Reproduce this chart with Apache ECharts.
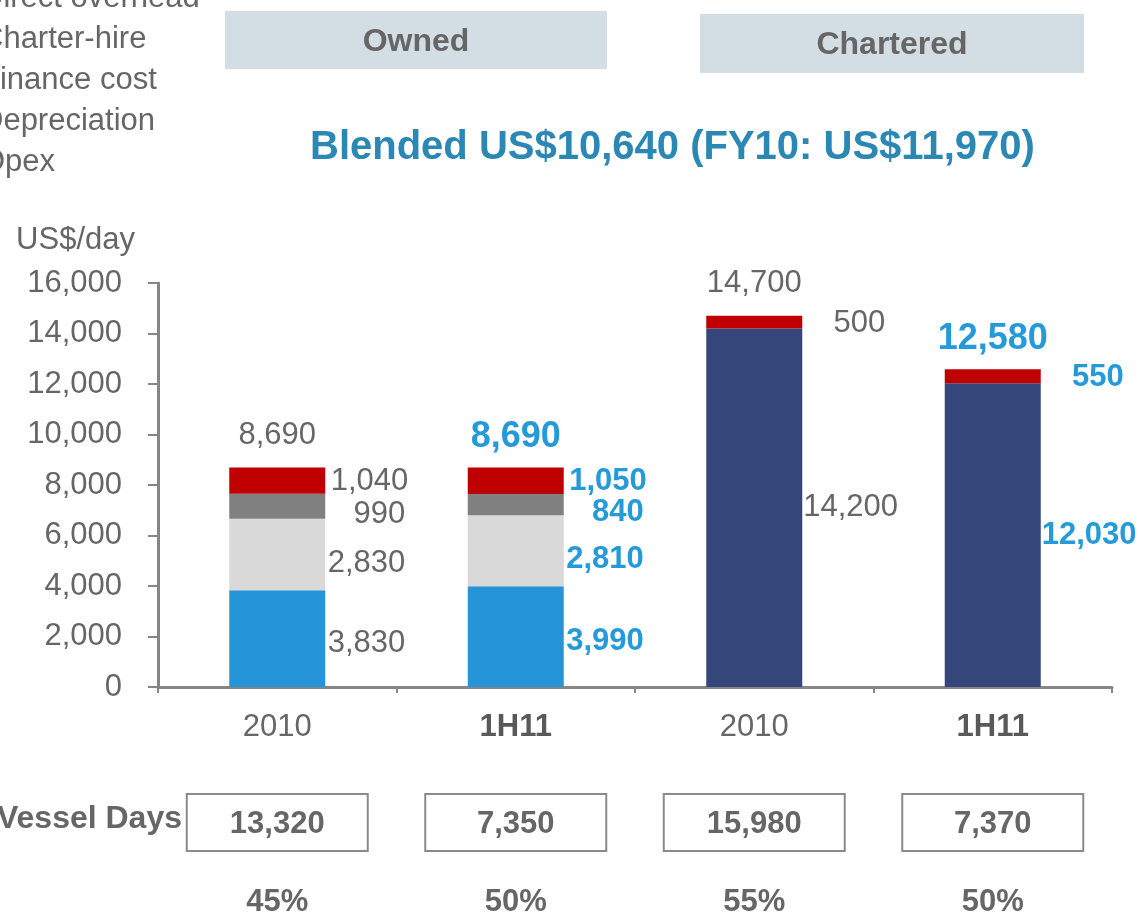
<!DOCTYPE html>
<html>
<head>
<meta charset="utf-8">
<script src="https://cdn.jsdelivr.net/npm/echarts@6/dist/echarts.min.js"></script>
<style>
  html, body { margin: 0; padding: 0; background: #fff; }
  #chart { width: 1140px; height: 912px; }
</style>
</head>
<body>
<div id="chart"></div>
<script>
// categories: owned 2010 / 1H11, chartered 2010 / 1H11
const categories = ['2010', '1H11', '2010', '1H11'];

// US$/day cost build-up
const opex = [3830, 3990, null, null];
const depreciation = [2830, 2810, null, null];
const financeCost = [990, 840, null, null];
const charterHire = [null, null, 14200, 12030];
const directOverhead = [1040, 1050, 500, 550];
const totals = [8690, 8690, 14700, 12580];

// row below the axis
const vesselDays = [13320, 7350, 15980, 7370];
const vesselShare = ['45%', '50%', '55%', '50%'];

const legendNames = ['Direct overhead', 'Charter-hire', 'Finance cost', 'Depreciation', 'Opex'];

const FONT = 'Arial, "Liberation Sans", sans-serif';
const GREY = '#666666';
const BLUE = '#259ad9';
const BAR_W = 96;

const fmt = v => Number(v).toLocaleString('en-US');

// 2010 labels are plain grey, 1H11 labels are bold blue
const labelRich = {
  g: { color: GREY, fontSize: 31, fontFamily: FONT },
  b: { color: BLUE, fontSize: 31, fontWeight: 'bold', fontFamily: FONT },
  gt: { color: GREY, fontSize: 31, fontFamily: FONT, padding: [0, 0, 5, 0] },
  bt: { color: BLUE, fontSize: 36, fontWeight: 'bold', fontFamily: FONT }
};
const segFormatter = p => (p.dataIndex % 2 ? '{b|' : '{g|') + fmt(p.value) + '}';

// label right-aligned at a fixed x from the bar's left edge
const sideLabel = (dy) => ({
  show: true,
  position: [176, '50%'],
  align: 'right',
  verticalAlign: 'middle',
  offset: [0, dy],
  formatter: segFormatter,
  rich: labelRich
});

const chart = echarts.init(document.getElementById('chart'));

chart.setOption({
  animation: false,
  textStyle: { fontFamily: FONT },
  title: {
    text: 'Blended US$10,640 (FY10: US$11,970)',
    left: 305,
    top: 123,
    textStyle: { color: '#2b87b3', fontSize: 40, fontWeight: 'bold', fontFamily: FONT }
  },
  legend: {
    data: legendNames,
    orient: 'vertical',
    left: -54,
    top: -24,
    itemWidth: 25,
    itemHeight: 14,
    itemGap: 7,
    icon: 'rect',
    textStyle: { color: GREY, fontSize: 31, lineHeight: 34, fontFamily: FONT }
  },
  grid: { left: 158, right: 28, top: 283, bottom: 225, outerBoundsMode: 'none' },
  xAxis: [
    {
      type: 'category',
      data: categories,
      axisLine: { lineStyle: { color: '#868686', width: 3 } },
      axisTick: { show: true, length: 6, lineStyle: { color: '#868686', width: 2 } },
      axisLabel: {
        interval: 0,
        margin: 25,
        formatter: (v, i) => (i % 2 ? '{b|' : '{n|') + v + '}',
        rich: {
          n: { color: GREY, fontSize: 31, fontFamily: FONT },
          b: { color: '#595959', fontSize: 31, fontWeight: 'bold', fontFamily: FONT }
        }
      }
    },
    {
      type: 'category',
      data: categories,
      position: 'bottom',
      offset: 107,
      axisLine: { show: false },
      axisTick: { show: false },
      axisLabel: {
        interval: 0,
        margin: 0,
        formatter: (v, i) => fmt(vesselDays[i]),
        color: GREY,
        fontSize: 31,
        fontWeight: 'bold',
        fontFamily: FONT,
        width: 181,
        height: 57,
        lineHeight: 61,
        align: 'center',
        borderColor: '#8a8a8a',
        borderWidth: 2
      }
    },
    {
      type: 'category',
      data: categories,
      position: 'bottom',
      offset: 200,
      axisLine: { show: false },
      axisTick: { show: false },
      axisLabel: {
        interval: 0,
        margin: 0,
        formatter: (v, i) => vesselShare[i],
        color: GREY,
        fontSize: 31,
        fontWeight: 'bold',
        fontFamily: FONT
      }
    }
  ],
  yAxis: {
    type: 'value',
    min: 0,
    max: 16000,
    interval: 2000,
    name: 'US$/day',
    nameLocation: 'end',
    nameGap: 43,
    nameTextStyle: { color: GREY, fontSize: 31, fontFamily: FONT, align: 'right', verticalAlign: 'middle', padding: [0, 23, 0, 0] },
    axisLine: { show: true, lineStyle: { color: '#868686', width: 3 } },
    axisTick: { show: true, length: 10, lineStyle: { color: '#868686', width: 2 } },
    splitLine: { show: false },
    axisLabel: { color: GREY, fontSize: 31, fontFamily: FONT, margin: 36, formatter: v => fmt(v) }
  },
  series: [
    {
      name: 'Opex', type: 'bar', stack: 'cost', barWidth: BAR_W,
      itemStyle: { color: '#2595d8' },
      label: sideLabel(5),
      data: opex
    },
    {
      name: 'Depreciation', type: 'bar', stack: 'cost', barWidth: BAR_W,
      itemStyle: { color: '#d9d9d9' },
      label: sideLabel(9),
      data: depreciation
    },
    {
      name: 'Finance cost', type: 'bar', stack: 'cost', barWidth: BAR_W,
      itemStyle: { color: '#808080' },
      label: sideLabel(8),
      data: financeCost
    },
    {
      name: 'Charter-hire', type: 'bar', stack: 'cost', barWidth: BAR_W,
      itemStyle: { color: '#35467a' },
      label: { show: true, position: 'right', distance: 1, formatter: segFormatter, rich: labelRich },
      data: charterHire
    },
    {
      name: 'Direct overhead', type: 'bar', stack: 'cost', barWidth: BAR_W,
      itemStyle: { color: '#c00000' },
      label: Object.assign(sideLabel(1), { position: [179, '50%'] }),
      data: directOverhead
    },
    {
      name: 'Total', type: 'bar', barWidth: BAR_W, barGap: '-100%', silent: true,
      itemStyle: { color: 'rgba(0,0,0,0)' },
      label: {
        show: true,
        position: 'top',
        distance: 12,
        formatter: p => (p.dataIndex % 2 ? '{bt|' : '{gt|') + fmt(p.value) + '}',
        rich: labelRich
      },
      z: 1,
      data: totals
    }
  ],
  graphic: [
    { type: 'rect', shape: { x: 225, y: 11, width: 382, height: 58 }, style: { fill: '#d3dde4' } },
    {
      type: 'text', x: 416, y: 42,
      style: { text: 'Owned', fill: GREY, font: 'bold 32px ' + FONT, align: 'center', verticalAlign: 'middle', textAlign: 'center', textVerticalAlign: 'middle' }
    },
    { type: 'rect', shape: { x: 700, y: 14, width: 384, height: 59 }, style: { fill: '#d3dde4' } },
    {
      type: 'text', x: 892, y: 45,
      style: { text: 'Chartered', fill: GREY, font: 'bold 32px ' + FONT, align: 'center', verticalAlign: 'middle', textAlign: 'center', textVerticalAlign: 'middle' }
    },
    {
      type: 'text', x: 182, y: 819,
      style: { text: 'Vessel Days', fill: GREY, font: 'bold 32px ' + FONT, align: 'right', verticalAlign: 'middle', textAlign: 'right', textVerticalAlign: 'middle' }
    }
  ]
});
</script>
</body>
</html>
